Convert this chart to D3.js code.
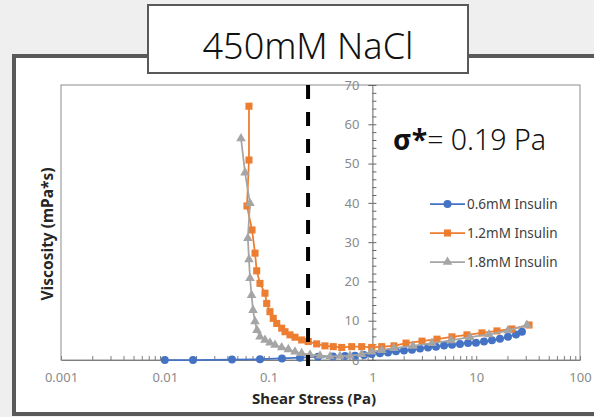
<!DOCTYPE html>
<html>
<head>
<meta charset="utf-8">
<script src="https://cdn.jsdelivr.net/npm/d3@7"></script>
<style>
  body { margin: 0; background: #efefef; }
  svg { display: block; }
  .tick text { font-family: "Noto Sans", sans-serif; font-size: 13px; fill: #8a8a8a; }
</style>
</head>
<body>
<script>
var width = 594,
    height = 417;

var seriesNames = ["0.6mM Insulin", "1.2mM Insulin", "1.8mM Insulin"];

var blueX = [0.01, 0.0187, 0.0444, 0.0826, 0.1346, 0.2007, 0.2993, 0.4169, 0.544, 0.68, 0.83, 0.985, 1.183, 1.413, 1.687, 2.015, 2.408, 2.876, 3.435, 4.10, 4.90, 5.85, 6.98, 8.34, 9.95, 11.89, 14.19, 16.95, 20.24, 24.2, 27.6];
var blueY = [0, 0, 0.1, 0.2, 0.4, 0.6, 0.8, 0.9, 1.0, 1.1, 1.3, 1.5, 1.7, 1.9, 2.2, 2.4, 2.6, 2.9, 3.2, 3.4, 3.7, 3.9, 4.1, 4.3, 4.4, 4.7, 5.0, 5.4, 5.9, 6.5, 7.2];

var orangeX = [0.0647, 0.0647, 0.0619, 0.0692, 0.074, 0.0768, 0.0826, 0.0923, 0.0959, 0.1031, 0.1109, 0.1197, 0.1337, 0.1439, 0.1607, 0.1795, 0.2082, 0.2412, 0.2904, 0.3491, 0.4198, 0.5058, 0.6319, 0.7885, 0.9842, 1.23, 1.614, 2.108, 3.006, 4.191, 5.845, 8.15, 11.37, 15.85, 22.1, 32.3];
var orangeY = [64.6, 50.9, 39.2, 33.1, 27.2, 22.7, 19.5, 17.0, 14.4, 12.3, 10.6, 9.3, 8.1, 7.2, 6.4, 5.8, 5.1, 4.7, 4.1, 3.6, 3.4, 3.2, 3.4, 3.4, 3.2, 3.4, 3.6, 4.3, 4.8, 5.3, 5.9, 6.4, 6.9, 7.4, 7.9, 8.9];

var grayX = [0.0542, 0.0593, 0.0662, 0.0631, 0.0647, 0.0662, 0.0685, 0.0708, 0.074, 0.0773, 0.0826, 0.0923, 0.1031, 0.1153, 0.1337, 0.1549, 0.1795, 0.2082, 0.2506, 0.3128, 0.3907, 0.4875, 0.6084, 0.788, 0.984, 1.23, 1.614, 2.46, 3.751, 5.72, 8.71, 13.28, 20.24, 30.8];
var grayY = [56.4, 47.7, 39.9, 31.0, 25.6, 20.8, 16.5, 12.7, 9.8, 7.6, 5.9, 5.1, 4.4, 3.8, 3.2, 2.7, 2.1, 1.7, 1.35, 1.1, 0.9, 1.0, 1.1, 1.45, 2.1, 2.5, 3.0, 3.6, 4.3, 5.0, 5.8, 6.5, 7.5, 8.9];

var xTicks = [0.001, 0.01, 0.1, 1, 10, 100];
var xTickLabels = ["0.001", "0.01", "0.1", "1", "10", "100"];
var yTicks = [0, 10, 20, 30, 40, 50, 60, 70];
var dashStress = 0.24; // where the dashed line sits in the picture
var sigmaLabel = "= 0.19 Pa";
var title = "450mM NaCl";

var colors = ["#4472C4", "#ED7D31", "#A5A5A5"];

var plot = {left: 61, right: 580, top: 85, bottom: 360};

var x = d3.scaleLog().domain([0.001, 100]).range([plot.left, plot.right]);
var y = d3.scaleLinear().domain([0, 70]).range([plot.bottom, plot.top]);

var svg = d3.select("body").append("svg")
    .attr("width", width)
    .attr("height", height);

// outer frame
svg.append("rect")
    .attr("x", 14).attr("y", 56)
    .attr("width", 700).attr("height", 358)
    .attr("fill", "#fff")
    .attr("stroke", "#595959")
    .attr("stroke-width", 4);

// plot area border
svg.append("rect")
    .attr("x", plot.left).attr("y", plot.top)
    .attr("width", plot.right - plot.left).attr("height", plot.bottom - plot.top)
    .attr("fill", "none")
    .attr("stroke", "#8c8c8c")
    .attr("stroke-width", 1);

// x axis: labels, then minor ticks pointing up
var xAxis = svg.append("g")
    .attr("transform", "translate(0," + plot.bottom + ")")
    .call(d3.axisBottom(x).tickValues(xTicks).tickSize(0).tickPadding(13)
        .tickFormat(function(d, i) { return xTickLabels[i]; }));
xAxis.select(".domain").attr("stroke", "#7f7f7f");

var minorX = [];
xTicks.slice(0, -1).forEach(function(t) {
  d3.range(1, 10).forEach(function(m) { minorX.push(t * m); });
});
minorX.push(100);
svg.append("g")
    .attr("transform", "translate(0," + plot.bottom + ")")
    .call(d3.axisBottom(x).tickValues(minorX).tickSize(-4).tickFormat(""))
    .call(function(g) { g.select(".domain").remove(); })
    .selectAll("line").attr("stroke", "#7f7f7f");

// y axis crosses at x = 1
var yAt = x(1);
var yAxis = svg.append("g")
    .attr("transform", "translate(" + yAt + ",0)")
    .call(d3.axisLeft(y).tickValues(yTicks).tickSize(4).tickPadding(9));
yAxis.select(".domain").attr("stroke", "#666");
yAxis.selectAll("line").attr("stroke", "#666");

svg.append("g")
    .attr("transform", "translate(" + yAt + ",0)")
    .call(d3.axisRight(y).tickValues(d3.range(0, 71, 2)).tickSize(4).tickFormat(""))
    .call(function(g) { g.select(".domain").remove(); })
    .selectAll("line").attr("stroke", "#666");

// axis titles
svg.append("text")
    .attr("x", 314).attr("y", 404)
    .attr("text-anchor", "middle")
    .attr("font-family", "'Noto Sans', sans-serif")
    .attr("font-weight", "bold")
    .attr("font-size", 15)
    .attr("fill", "#262626")
    .text("Shear Stress (Pa)");

svg.append("text")
    .attr("transform", "translate(53,234) rotate(-90)")
    .attr("text-anchor", "middle")
    .attr("font-family", "'Noto Sans', sans-serif")
    .attr("font-weight", "bold")
    .attr("font-size", 15.5)
    .attr("fill", "#262626")
    .text("Viscosity (mPa*s)");

// series
var series = [
  {name: seriesNames[0], xs: blueX, ys: blueY, color: colors[0], shape: d3.symbolCircle, size: 50},
  {name: seriesNames[1], xs: orangeX, ys: orangeY, color: colors[1], shape: d3.symbolSquare, size: 50},
  {name: seriesNames[2], xs: grayX, ys: grayY, color: colors[2], shape: d3.symbolTriangle, size: 40}
];

var line = d3.line()
    .x(function(d) { return x(d[0]); })
    .y(function(d) { return y(d[1]); });

series.forEach(function(s) {
  var pts = d3.zip(s.xs, s.ys);
  svg.append("path")
      .datum(pts)
      .attr("fill", "none")
      .attr("stroke", s.color)
      .attr("stroke-width", 1.75)
      .attr("d", line);
  svg.append("g").selectAll("path")
      .data(pts)
      .join("path")
      .attr("transform", function(d) { return "translate(" + x(d[0]) + "," + y(d[1]) + ")"; })
      .attr("d", d3.symbol().type(s.shape).size(s.size))
      .attr("fill", s.color);
});

// dashed threshold line
svg.append("line")
    .attr("x1", x(dashStress)).attr("x2", x(dashStress))
    .attr("y1", plot.top).attr("y2", plot.bottom + 6)
    .attr("stroke", "#000")
    .attr("stroke-width", 4)
    .attr("stroke-dasharray", "14,13");

// sigma annotation
var sig = svg.append("text")
    .attr("x", 393).attr("y", 150)
    .attr("font-family", "'Noto Sans', sans-serif")
    .attr("font-size", 28.5)
    .attr("fill", "#111");
sig.append("tspan").attr("font-weight", "bold").text("σ*");
sig.append("tspan").attr("font-weight", 300).text(sigmaLabel);

// legend
var legend = svg.append("g").selectAll("g")
    .data(series)
    .join("g")
    .attr("transform", function(d, i) { return "translate(430," + (204 + i * 29) + ")"; });
legend.append("line")
    .attr("x1", 0).attr("x2", 35)
    .attr("stroke", function(d) { return d.color; })
    .attr("stroke-width", 1.75);
legend.append("path")
    .attr("transform", "translate(17.5,0)")
    .attr("d", function(d) { return d3.symbol().type(d.shape).size(d.size)(); })
    .attr("fill", function(d) { return d.color; });
legend.append("text")
    .attr("x", 37).attr("dy", "0.35em")
    .attr("font-family", "'Noto Sans', sans-serif")
    .attr("font-size", 13.5)
    .attr("fill", "#404040")
    .text(function(d) { return d.name; });

// title box
svg.append("rect")
    .attr("x", 148).attr("y", 5)
    .attr("width", 320).attr("height", 68)
    .attr("fill", "#fff")
    .attr("stroke", "#595959")
    .attr("stroke-width", 2);
svg.append("text")
    .attr("x", 308).attr("y", 59)
    .attr("text-anchor", "middle")
    .attr("font-family", "'Noto Sans', sans-serif")
    .attr("font-weight", 300)
    .attr("font-size", 36)
    .attr("fill", "#111")
    .text(title);
</script>
</body>
</html>
